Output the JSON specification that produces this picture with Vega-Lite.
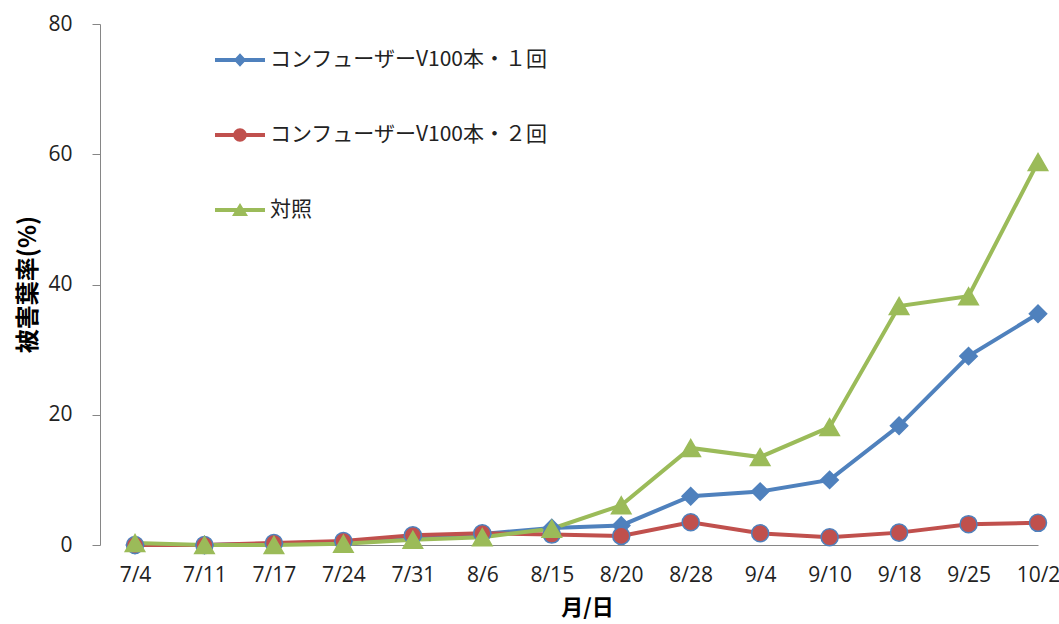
{
  "$schema": "https://vega.github.io/schema/vega-lite/v6.json",
  "autosize": {"type": "none"},
  "padding": {"left": 100, "top": 24, "right": 0, "bottom": 79},
  "width": 959,
  "height": 521,
  "background": "white",
  "config": {
    "view": {"stroke": null},
    "font": "Open Sans",
    "axis": {"grid": false, "domainColor": "#868686", "tickColor": "#868686", "labelColor": "#222222", "labelFont": "Open Sans", "labelFontSize": 21, "titleFont": "Noto Sans CJK JP", "titleFontSize": 24, "titleFontWeight": "bold", "titleColor": "#000000"}
  },
  "data": {"values": [
    {"date": "7/4", "series": "コンフューザーV100本・１回", "value": 0},
    {"date": "7/11", "series": "コンフューザーV100本・１回", "value": 0},
    {"date": "7/17", "series": "コンフューザーV100本・１回", "value": 0.2},
    {"date": "7/24", "series": "コンフューザーV100本・１回", "value": 0.5},
    {"date": "7/31", "series": "コンフューザーV100本・１回", "value": 1.3},
    {"date": "8/6", "series": "コンフューザーV100本・１回", "value": 1.7},
    {"date": "8/15", "series": "コンフューザーV100本・１回", "value": 2.6},
    {"date": "8/20", "series": "コンフューザーV100本・１回", "value": 3.0},
    {"date": "8/28", "series": "コンフューザーV100本・１回", "value": 7.5},
    {"date": "9/4", "series": "コンフューザーV100本・１回", "value": 8.2},
    {"date": "9/10", "series": "コンフューザーV100本・１回", "value": 10.0},
    {"date": "9/18", "series": "コンフューザーV100本・１回", "value": 18.3},
    {"date": "9/25", "series": "コンフューザーV100本・１回", "value": 29.0},
    {"date": "10/2", "series": "コンフューザーV100本・１回", "value": 35.5},
    {"date": "7/4", "series": "コンフューザーV100本・２回", "value": 0},
    {"date": "7/11", "series": "コンフューザーV100本・２回", "value": 0},
    {"date": "7/17", "series": "コンフューザーV100本・２回", "value": 0.3},
    {"date": "7/24", "series": "コンフューザーV100本・２回", "value": 0.6},
    {"date": "7/31", "series": "コンフューザーV100本・２回", "value": 1.5},
    {"date": "8/6", "series": "コンフューザーV100本・２回", "value": 1.8},
    {"date": "8/15", "series": "コンフューザーV100本・２回", "value": 1.6},
    {"date": "8/20", "series": "コンフューザーV100本・２回", "value": 1.4},
    {"date": "8/28", "series": "コンフューザーV100本・２回", "value": 3.5},
    {"date": "9/4", "series": "コンフューザーV100本・２回", "value": 1.8},
    {"date": "9/10", "series": "コンフューザーV100本・２回", "value": 1.2},
    {"date": "9/18", "series": "コンフューザーV100本・２回", "value": 1.9},
    {"date": "9/25", "series": "コンフューザーV100本・２回", "value": 3.2},
    {"date": "10/2", "series": "コンフューザーV100本・２回", "value": 3.4},
    {"date": "7/4", "series": "対照", "value": 0.3},
    {"date": "7/11", "series": "対照", "value": 0},
    {"date": "7/17", "series": "対照", "value": 0},
    {"date": "7/24", "series": "対照", "value": 0.2},
    {"date": "7/31", "series": "対照", "value": 0.8},
    {"date": "8/6", "series": "対照", "value": 1.2},
    {"date": "8/15", "series": "対照", "value": 2.5},
    {"date": "8/20", "series": "対照", "value": 6.1},
    {"date": "8/28", "series": "対照", "value": 14.9},
    {"date": "9/4", "series": "対照", "value": 13.5},
    {"date": "9/10", "series": "対照", "value": 18.1},
    {"date": "9/18", "series": "対照", "value": 36.7},
    {"date": "9/25", "series": "対照", "value": 38.2},
    {"date": "10/2", "series": "対照", "value": 58.8}
  ]},
  "encoding": {
    "x": {"field": "date", "type": "ordinal", "sort": null,
      "scale": {"type": "point", "padding": 0, "domain": ["7/4","7/11","7/17","7/24","7/31","8/6","8/15","8/20","8/28","9/4","9/10","9/18","9/25","10/2"], "range": [35, 938]},
      "axis": {"title": "月/日", "labelAngle": 0, "ticks": false, "labelPadding": 19, "titleX": 487, "titleY": 52, "titleBaseline": "top", "titleFontSize": 22}},
    "y": {"field": "value", "type": "quantitative",
      "scale": {"domain": [0, 80], "nice": false},
      "axis": {"title": "被害葉率(%)", "values": [0, 20, 40, 60, 80], "tickSize": 8, "labelPadding": 20, "titleX": -72, "titleY": 260, "titleBaseline": "middle", "titleAngle": -90}}
  },
  "layer": [
    {
      "mark": {"type": "line", "strokeWidth": 4},
      "encoding": {
        "color": {"field": "series", "type": "nominal",
          "scale": {"domain": ["コンフューザーV100本・１回", "コンフューザーV100本・２回", "対照"], "range": ["#4f81bd", "#c0504d", "#9bbb59"]},
          "legend": {
            "title": null, "orient": "none", "legendX": 115, "legendY": 11,
            "symbolSize": 2500, "symbolStrokeWidth": 0, "rowPadding": 40, "labelOffset": 5,
            "labelFont": "Noto Sans CJK JP", "labelFontSize": 21, "labelColor": "#222222", "labelLimit": 500,
            "encode": {"symbols": {"update": {
              "shape": {"signal": "datum.value === 'コンフューザーV100本・１回' ? 'M-1,-0.08H1V0.08H-1Z M0,-0.27L0.25,0L0,0.27L-0.25,0Z' : datum.value === 'コンフューザーV100本・２回' ? 'M-1,-0.08H1V0.08H-1Z M0.27,0A0.27,0.27 0 1,1 -0.27,0A0.27,0.27 0 1,1 0.27,0Z' : 'M-1,-0.08H1V0.08H-1Z M0,-0.28L0.32,0.24L-0.32,0.24Z'"},
              "fill": {"signal": "scale('color', datum.value)"},
              "strokeWidth": {"value": 0},
              "opacity": {"value": 1}
            }}}
          }}
      }
    },
    {
      "transform": [{"filter": "datum.series === 'コンフューザーV100本・１回'"}],
      "mark": {"type": "point", "shape": "diamond", "filled": true, "opacity": 1, "size": 300, "fill": "#4f81bd", "stroke": "#4f81bd", "strokeWidth": 1.5}
    },
    {
      "transform": [{"filter": "datum.series === 'コンフューザーV100本・２回'"}],
      "mark": {"type": "point", "shape": "circle", "filled": true, "opacity": 1, "size": 290, "fill": "#c0504d", "stroke": "#4f81bd", "strokeWidth": 1.5}
    },
    {
      "transform": [{"filter": "datum.series === '対照'"}],
      "mark": {"type": "point", "shape": "triangle-up", "filled": true, "opacity": 1, "size": 380, "fill": "#9bbb59", "stroke": "#9bbb59", "strokeWidth": 1.5}
    }
  ]
}
